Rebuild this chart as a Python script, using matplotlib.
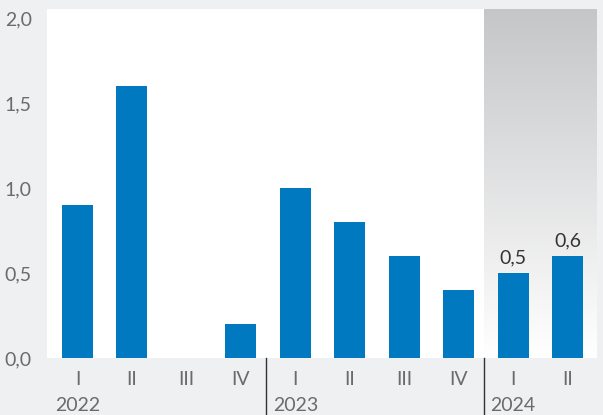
import matplotlib
matplotlib.use('Agg')
import matplotlib.pyplot as plt
import matplotlib.transforms as mtransforms
from matplotlib.colors import LinearSegmentedColormap
import numpy as np

plt.rcParams.update({
    'font.family': ['Lato', 'DejaVu Sans'],
    'font.size': 14,
})

# Data
quarters = ['I', 'II', 'III', 'IV', 'I', 'II', 'III', 'IV', 'I', 'II']
years = ['2022', '2023', '2024']
year_start = [0, 4, 8]          # index of the first quarter of each year
values = [0.9, 1.6, 0.0, 0.2, 1.0, 0.8, 0.6, 0.4, 0.5, 0.6]
labelled = [8, 9]               # bars with value labels (forecast)
yticks = [0.0, 0.5, 1.0, 1.5, 2.0]

BLUE = '#0079c1'
BG = '#eff0f2'
TXT = '#6b6b6b'

fig = plt.figure(figsize=(6.03, 4.15), dpi=100, facecolor=BG)
ax = fig.add_axes([0.078, 0.1373, 0.912, 0.842])
ax.set_facecolor('white')

x = np.arange(len(values))
xlo, xhi = -0.56, len(values) - 1 + 0.54
ylo, yhi = 0, 2.055

# forecast shading (gradient grey -> white)
shade_x = year_start[2] - 0.53
grad = np.linspace(0, 1, 256).reshape(-1, 1)
cmap = LinearSegmentedColormap.from_list('sh', ['#ffffff', '#c5c6c8'])
ax.imshow(grad, extent=[shade_x, xhi, ylo, yhi], origin='lower', aspect='auto',
          cmap=cmap, zorder=0)
ax.set_xlim(xlo, xhi)
ax.set_ylim(ylo, yhi)

ax.bar(x, values, width=0.57, color=BLUE, zorder=2)

for i in labelled:
    ax.annotate(f'{values[i]:.1f}'.replace('.', ','), (x[i], values[i]),
                textcoords='offset points', xytext=(0, 5), ha='center', va='bottom',
                fontsize=14, color='#333333')

ax.set_yticks(yticks)
ax.set_yticklabels([f'{v:.1f}'.replace('.', ',') for v in yticks], color=TXT)
ax.set_xticks(x)
ax.set_xticklabels(quarters, color=TXT)
ax.tick_params(axis='both', length=0)
ax.tick_params(axis='y', pad=11)
ax.tick_params(axis='x', pad=9)

for s in ax.spines.values():
    s.set_visible(False)

# year labels and separators
trans = mtransforms.blended_transform_factory(ax.transData, ax.transAxes)
for yr, st in zip(years, year_start):
    ax.text(x[st], -0.136, yr, transform=trans, ha='center', va='center',
            fontsize=14, color=TXT)
for st in year_start[1:]:
    sep = st - 0.53
    ax.plot([sep, sep], [0, -0.17], transform=trans, color='#333333', lw=1,
            clip_on=False)

fig.savefig('out.png', dpi=100, facecolor=BG)
